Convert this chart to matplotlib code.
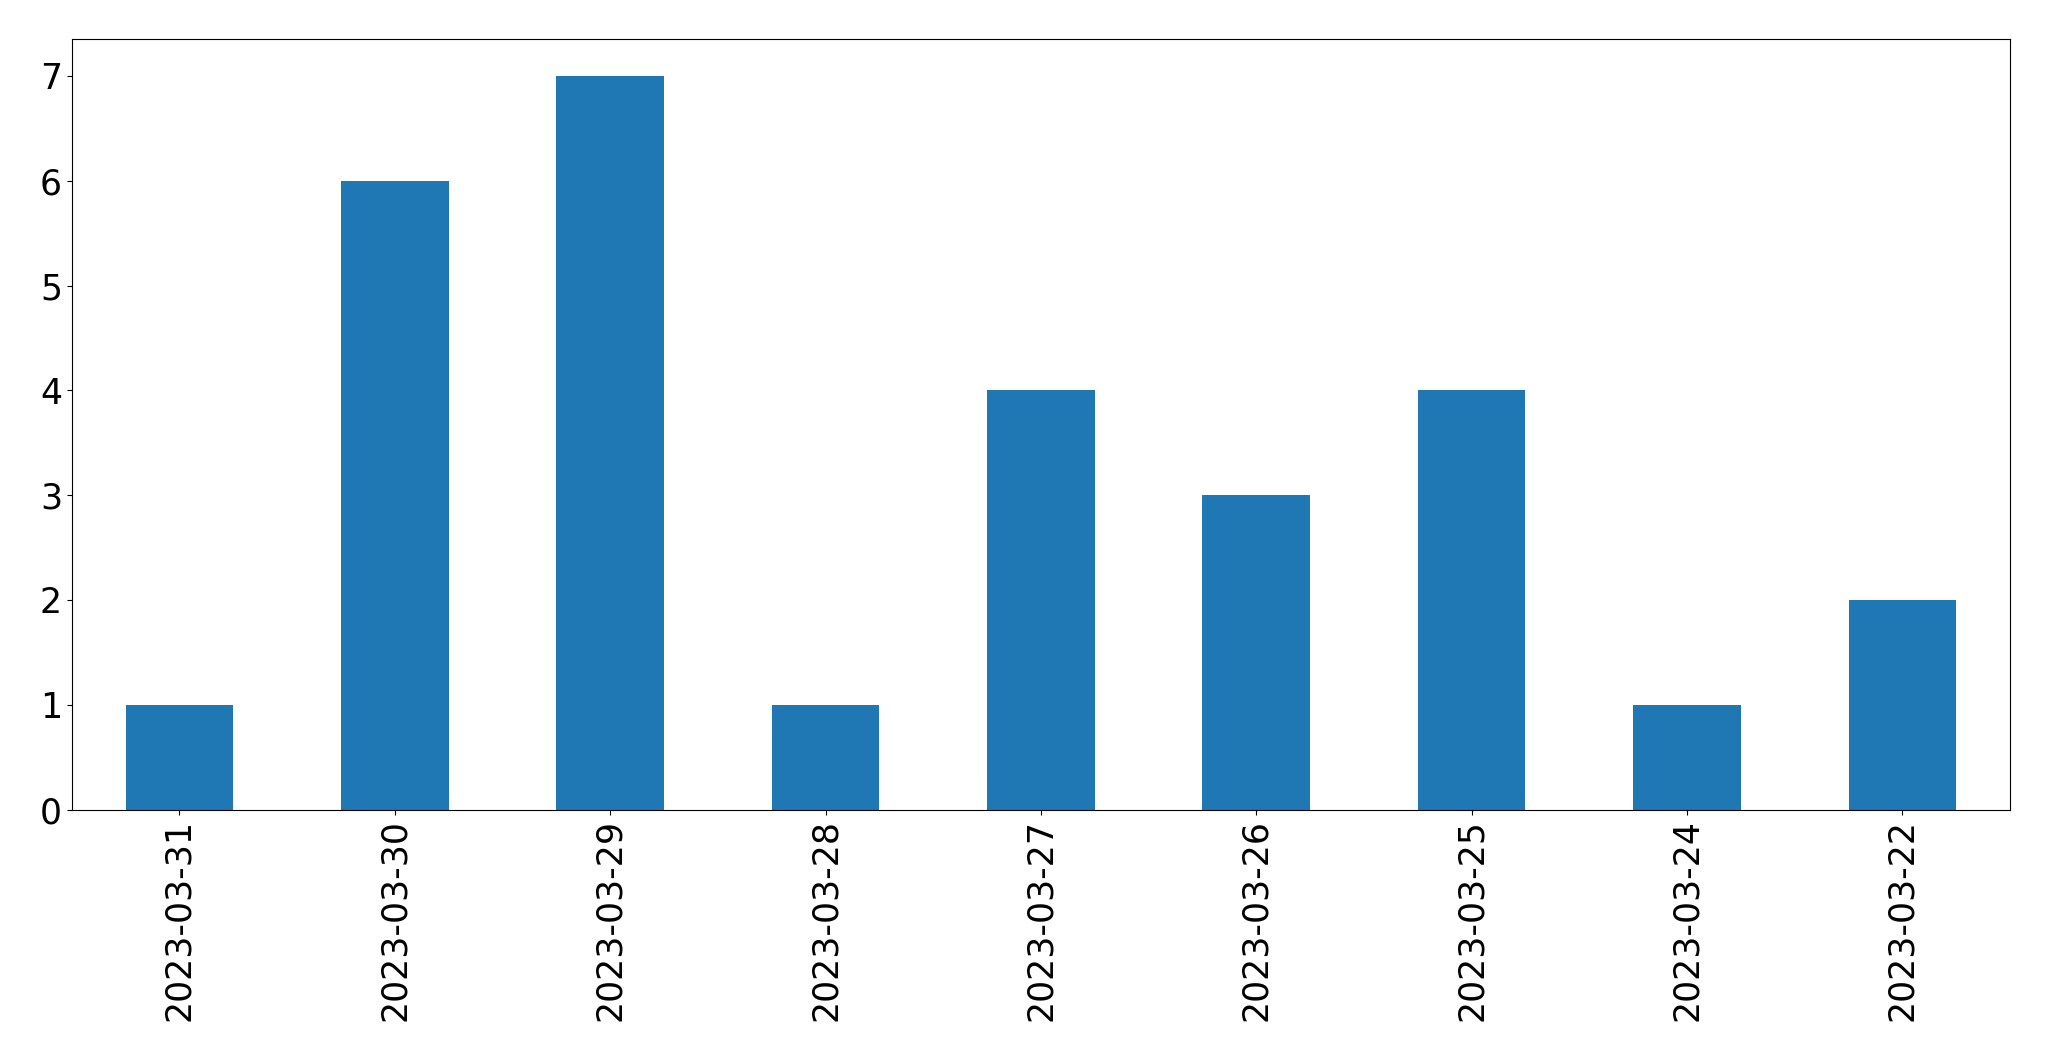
import matplotlib
matplotlib.use("Agg")
import matplotlib.pyplot as plt
import pandas as pd

# Nombre d'entrées par jour
dates = ["2023-03-31", "2023-03-30", "2023-03-29", "2023-03-28", "2023-03-27",
         "2023-03-26", "2023-03-25", "2023-03-24", "2023-03-22"]
counts = [1, 6, 7, 1, 4, 3, 4, 1, 2]

serie = pd.Series(counts, index=dates)

fig, ax = plt.subplots(figsize=(20.49, 10.61), dpi=100)
serie.plot.bar(ax=ax, color="#1f77b4", width=0.5)
ax.tick_params(axis="both", labelsize=25)
fig.subplots_adjust(left=0.035, right=0.981, top=0.963, bottom=0.237)
fig.savefig("out.png")
